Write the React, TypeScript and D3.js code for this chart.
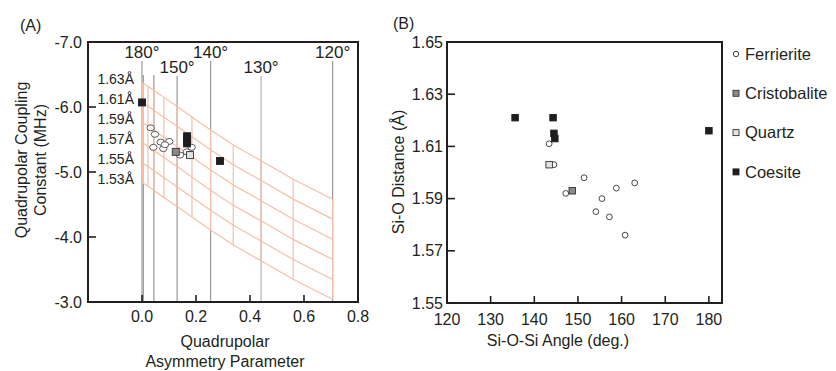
import * as d3 from 'd3';

// ---- panel A: model grid ----
const gridAngles = [180, 175, 170, 165, 160, 155, 150, 145, 140, 135, 130, 125, 120];
const gridEta = [0.0, 0.002, 0.005, 0.022, 0.044, 0.081, 0.13, 0.185, 0.254, 0.338, 0.441, 0.56, 0.706];
const gridCqTop = [-6.385, -6.38, -6.366, -6.32, -6.255, -6.148, -6.008, -5.846, -5.646, -5.415, -5.174, -4.888, -4.58];
const gridDist = ['1.63Å', '1.61Å', '1.59Å', '1.57Å', '1.55Å', '1.53Å'];
const gridCq180 = [-6.385, -6.08, -5.77, -5.46, -5.15, -4.846];

const refAngles = [180, 170, 160, 150, 140, 130, 120];
const refLabelled = ['180°', '', '', '150°', '140°', '130°', '120°'];

// ---- panel A points: [eta, Cq] ----
const ferrA = [[0.032, -5.68], [0.048, -5.58], [0.069, -5.46], [0.101, -5.47], [0.042, -5.38], [0.079, -5.36], [0.085, -5.42], [0.141, -5.26], [0.184, -5.38], [0.166, -5.31]];
const cristA = [[0.125, -5.31]];
const quartzA = [[0.178, -5.26]];
const coesA = [[0.0, -6.07], [0.167, -5.55], [0.167, -5.5], [0.167, -5.44], [0.289, -5.17]];

// ---- panel B points: [angle, distance] ----
const ferrB = [[143.4, 1.611], [144.5, 1.603], [147.2, 1.592], [151.4, 1.598], [155.5, 1.59], [154.1, 1.585], [157.2, 1.583], [158.8, 1.594], [163.0, 1.596], [160.8, 1.576]];
const cristB = [[148.7, 1.593]];
const quartzB = [[143.4, 1.603]];
const coesB = [[135.6, 1.621], [144.3, 1.621], [144.5, 1.615], [144.7, 1.613], [180.0, 1.616]];

const ticksA_y = [-7, -6, -5, -4, -3];
const ticksA_x = [0, 0.2, 0.4, 0.6, 0.8];
const ticksB_y = [1.55, 1.57, 1.59, 1.61, 1.63, 1.65];
const ticksB_x = [120, 130, 140, 150, 160, 170, 180];

const legendNames = ['Ferrierite', 'Cristobalite', 'Quartz', 'Coesite'];

const FONT = '"Liberation Sans", Arial, Helvetica, sans-serif';
const INK = '#231f20';
const ORANGE = '#f6bfa8';
const GREY = '#9a9a9a';

const STYLE: Record<string, { fill: string; stroke: string }> = {
  Ferrierite: { fill: '#ffffff', stroke: '#333' },
  Cristobalite: { fill: '#8a8a8a', stroke: '#333' },
  Quartz: { fill: '#e2e2e2', stroke: '#333' },
  Coesite: { fill: '#1e1e1e', stroke: '#1e1e1e' },
};

function Sq({ x, y, s, kind }: { x: number; y: number; s: number; kind: string }) {
  return <rect x={x - s / 2} y={y - s / 2} width={s} height={s} fill={STYLE[kind].fill} stroke={STYLE[kind].stroke} strokeWidth={0.9} />;
}

export default function App() {
  // panel A scales
  const xA = d3.scaleLinear().domain([-0.2, 0.8]).range([88, 358]);
  const yA = d3.scaleLinear().domain([-7, -3]).range([42, 302]);
  // panel B scales
  const xB = d3.scaleLinear().domain([120, 183]).range([447, 722]);
  const yB = d3.scaleLinear().domain([1.55, 1.65]).range([303, 42]);

  const line = d3.line<[number, number]>().x((d) => xA(d[0])).y((d) => yA(d[1]));
  const shift = gridCq180.map((c) => c - gridCq180[0]);
  const diagonals = shift.map((s) => line(gridEta.map((e, j) => [e, gridCqTop[j] + s] as [number, number])));
  const last = shift[shift.length - 1];

  // plain hyphen for negatives, like the original figure
  const fmt1 = (v: number) => d3.format('.1f')(v).replace('\u2212', '-');
  const fmt2 = d3.format('.2f');

  return (
    <svg width={836} height={371} style={{ position: 'absolute', left: 0, top: 0 }} fontFamily={FONT}>
      <rect width={836} height={371} fill="#fff" />

      {/* ===== Panel A ===== */}
      <text x={20} y={31} fontSize={16} fill={INK}>(A)</text>

      {/* reference angle lines */}
      {refAngles.map((a, i) => {
        const j = gridAngles.indexOf(a);
        const x = xA(gridEta[j]);
        const high = i % 2 === 0 && refLabelled[i] !== '150°' && refLabelled[i] !== '130°';
        const top = refLabelled[i] === '' ? 75 : high ? 61 : 76;
        return (
          <g key={a}>
            <line x1={x} x2={x} y1={top} y2={yA(-3)} stroke={a === 130 ? '#b5b5b5' : GREY} strokeWidth={1.2} />
            {refLabelled[i] && (
              <text x={x} y={high ? 58 : 73} textAnchor="middle" fontSize={17} fill={INK}>{refLabelled[i]}</text>
            )}
          </g>
        );
      })}

      {/* model grid */}
      {diagonals.map((d, i) => (
        <path key={i} d={d || ''} fill="none" stroke={ORANGE} strokeWidth={1.2} />
      ))}
      {gridEta.map((e, j) => (
        <line key={j} x1={xA(e)} x2={xA(e)} y1={yA(gridCqTop[j])} y2={yA(gridCqTop[j] + last)} stroke={ORANGE} strokeWidth={1.2} />
      ))}
      {gridDist.map((t, i) => (
        <text key={t} x={134} y={yA(gridCq180[i]) + 2} textAnchor="end" fontSize={14} fill={INK}>{t}</text>
      ))}

      {/* points A */}
      {ferrA.map((p, i) => (
        <ellipse key={'fa' + i} cx={xA(p[0])} cy={yA(p[1])} rx={3.7} ry={3} fill="#fff" stroke="#333" strokeWidth={0.8} />
      ))}
      {coesA.map((p, i) => <Sq key={'oa' + i} x={xA(p[0])} y={yA(p[1])} s={7} kind="Coesite" />)}
      {cristA.map((p, i) => <Sq key={'ca' + i} x={xA(p[0])} y={yA(p[1])} s={7} kind="Cristobalite" />)}
      {quartzA.map((p, i) => <Sq key={'qa' + i} x={xA(p[0])} y={yA(p[1])} s={7} kind="Quartz" />)}

      {/* frame A */}
      <rect x={xA(-0.2)} y={yA(-7)} width={xA(0.8) - xA(-0.2)} height={yA(-3) - yA(-7)} fill="none" stroke={INK} strokeWidth={2} />
      {ticksA_y.map((t) => (
        <g key={t}>
          <line x1={xA(-0.2)} x2={xA(-0.2) + 8} y1={yA(t)} y2={yA(t)} stroke={INK} strokeWidth={1.6} />
          <text x={82} y={yA(t) + 5.5} textAnchor="end" fontSize={16} fill={INK}>{fmt1(t)}</text>
        </g>
      ))}
      {ticksA_x.map((t) => (
        <g key={t}>
          <line x1={xA(t)} x2={xA(t)} y1={yA(-3)} y2={yA(-3) - 7} stroke={INK} strokeWidth={1.6} />
          <text x={xA(t)} y={322} textAnchor="middle" fontSize={16} fill={INK}>{fmt1(t)}</text>
        </g>
      ))}
      <text x={225} y={347} textAnchor="middle" fontSize={16} fill={INK}>Quadrupolar</text>
      <text x={225} y={367} textAnchor="middle" fontSize={16} fill={INK}>Asymmetry Parameter</text>
      <text transform="translate(27,160) rotate(-90)" textAnchor="middle" fontSize={16} fill={INK}>Quadrupolar Coupling</text>
      <text transform="translate(46,160) rotate(-90)" textAnchor="middle" fontSize={16} fill={INK}>Constant (MHz)</text>

      {/* ===== Panel B ===== */}
      <text x={393} y={29} fontSize={16} fill={INK}>(B)</text>

      {ferrB.map((p, i) => (
        <circle key={'fb' + i} cx={xB(p[0])} cy={yB(p[1])} r={2.9} fill="#fff" stroke="#333" strokeWidth={0.9} />
      ))}
      {cristB.map((p, i) => <Sq key={'cb' + i} x={xB(p[0])} y={yB(p[1])} s={6.5} kind="Cristobalite" />)}
      {quartzB.map((p, i) => <Sq key={'qb' + i} x={xB(p[0])} y={yB(p[1])} s={6.5} kind="Quartz" />)}
      {coesB.map((p, i) => <Sq key={'ob' + i} x={xB(p[0])} y={yB(p[1])} s={6.5} kind="Coesite" />)}

      <rect x={xB(120)} y={yB(1.65)} width={xB(183) - xB(120)} height={yB(1.55) - yB(1.65)} fill="none" stroke={INK} strokeWidth={2} />
      {ticksB_y.map((t) => (
        <g key={t}>
          <line x1={xB(120)} x2={xB(120) + 8} y1={yB(t)} y2={yB(t)} stroke={INK} strokeWidth={1.6} />
          <text x={443} y={yB(t) + 5.5} textAnchor="end" fontSize={16} fill={INK}>{fmt2(t)}</text>
        </g>
      ))}
      {ticksB_x.map((t) => (
        <g key={t}>
          <line x1={xB(t)} x2={xB(t)} y1={yB(1.55)} y2={yB(1.55) - 7} stroke={INK} strokeWidth={1.6} />
          <text x={xB(t)} y={325} textAnchor="middle" fontSize={16} fill={INK}>{t}</text>
        </g>
      ))}
      <text x={558} y={346} textAnchor="middle" fontSize={16} fill={INK}>Si-O-Si Angle (deg.)</text>
      <text transform="translate(404,172) rotate(-90)" textAnchor="middle" fontSize={16} fill={INK}>Si-O Distance (Å)</text>

      {/* legend */}
      {legendNames.map((n, i) => {
        const ly = 54 + i * 39.3;
        return (
          <g key={n}>
            {n === 'Ferrierite' ? (
              <circle cx={736} cy={ly} r={2.7} fill="#fff" stroke="#333" strokeWidth={0.9} />
            ) : (
              <Sq x={736} y={ly} s={6} kind={n} />
            )}
            <text x={745} y={ly + 5.8} fontSize={16.5} fill={INK}>{n}</text>
          </g>
        );
      })}
    </svg>
  );
}
